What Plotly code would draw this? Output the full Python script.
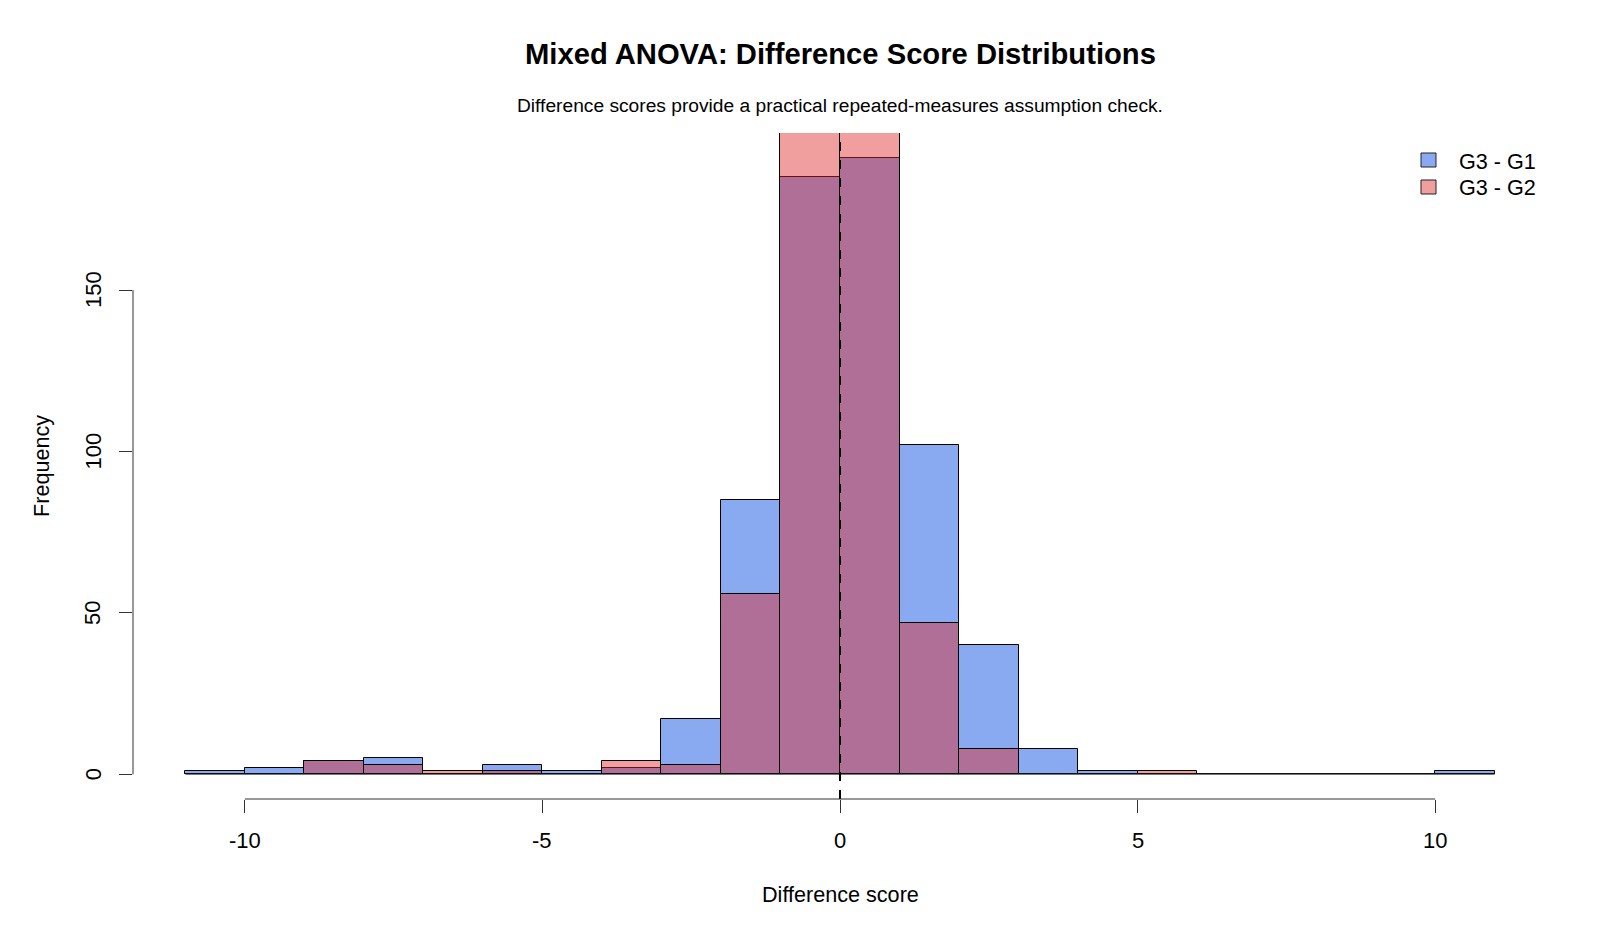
import plotly.graph_objects as go

# ---- data ----
bin_left = list(range(-11, 11))          # histogram bins [k, k+1)
bin_width = 1
g3_g1 = [1, 2, 4, 5, 0, 3, 1, 2, 17, 85, 185, 191, 102, 40, 8, 1, 0, 0, 0, 0, 0, 1]
g3_g2 = [0, 0, 4, 3, 1, 1, 0, 4, 3, 56, 262, 258, 47, 8, 0, 0, 1, 0, 0, 0, 0, 0]
x_ticks = [-10, -5, 0, 5, 10]
y_ticks = [0, 50, 100, 150]
series_names = ["G3 - G1", "G3 - G2"]
title = "Mixed ANOVA: Difference Score Distributions"
subtitle = "Difference scores provide a practical repeated-measures assumption check."
x_label = "Difference score"
y_label = "Frequency"

# ---- style ----
FONT = "Liberation Sans, Arial, sans-serif"
BLUE = "rgba(87,134,234,0.7)"
RED = "rgba(222,39,39,0.45)"
W, H = 1600, 933
L, R, T, B = 133, 53, 133, 134
PW, PH = W - L - R, H - T - B

def px(xp):
    return (xp - L) / PW

def py(yp):
    return (H - B - yp) / PH

centers = [b + bin_width / 2 for b in bin_left]
x_lo = bin_left[0]
x_hi = bin_left[-1] + bin_width
x_ext = 0.04 * (x_hi - x_lo)
y_top = max(g3_g1)

fig = go.Figure()
fig.add_trace(go.Scatter(x=[x_lo, x_hi], y=[0, 0], mode="lines",
                         line=dict(color="rgb(90,90,90)", width=1),
                         showlegend=False, hoverinfo="skip"))
for vals, col, name in [(g3_g1, BLUE, series_names[0]), (g3_g2, RED, series_names[1])]:
    fig.add_trace(go.Bar(x=centers, y=vals, width=bin_width, name=name,
                         marker=dict(color=col, line=dict(color="black", width=1)),
                         showlegend=False))

shapes = []
# dashed reference line at 0
shapes.append(dict(type="line", xref="x", yref="paper", x0=0, x1=0, y0=0, y1=1,
                   line=dict(color="black", width=2, dash="9px,9px"), layer="above"))
# axis lines (R style, spanning tick range)
shapes.append(dict(type="line", xref="x", yref="paper", x0=x_ticks[0], x1=x_ticks[-1],
                   y0=0, y1=0, line=dict(color="#333", width=1)))
shapes.append(dict(type="line", xref="paper", yref="y", x0=0, x1=0,
                   y0=y_ticks[0], y1=y_ticks[-1], line=dict(color="#333", width=1)))
# legend boxes
for i, col in enumerate([BLUE, RED]):
    cy = 160 + i * 27
    shapes.append(dict(type="rect", xref="paper", yref="paper",
                       x0=px(1421), x1=px(1436), y0=py(cy + 7), y1=py(cy - 7),
                       fillcolor=col, line=dict(color="#222", width=1)))

ann = []
for v in x_ticks:
    ann.append(dict(x=v, xref="x", y=0, yref="paper", yshift=-41, text=str(v),
                    showarrow=False, xanchor="center", yanchor="middle",
                    font=dict(size=22, color="black", family=FONT)))
for v in y_ticks:
    ann.append(dict(x=0, xref="paper", xshift=-40, y=v, yref="y", text=str(v),
                    textangle=-90, showarrow=False, xanchor="center", yanchor="middle",
                    font=dict(size=22, color="black", family=FONT)))
ann.append(dict(x=0.5, xref="paper", y=0, yref="paper", yshift=-95, text=x_label,
                showarrow=False, xanchor="center", yanchor="middle",
                font=dict(size=21.6, color="black", family=FONT)))
ann.append(dict(x=0, xref="paper", xshift=-92, y=0.5, yref="paper", text=y_label,
                textangle=-90, showarrow=False, xanchor="center", yanchor="middle",
                font=dict(size=21.6, color="black", family=FONT)))
ann.append(dict(x=0.5, xref="paper", y=1, yref="paper", yshift=79,
                text="<b>" + title + "</b>", showarrow=False, xanchor="center", yanchor="middle",
                font=dict(size=29.2, color="black", family=FONT)))
ann.append(dict(x=0.5, xref="paper", y=1, yref="paper", yshift=28, text=subtitle,
                showarrow=False, xanchor="center", yanchor="middle",
                font=dict(size=19.2, color="black", family=FONT)))
for i, name in enumerate(series_names):
    ann.append(dict(x=px(1457), xref="paper", y=py(161 + i * 27), yref="paper", text=name,
                    showarrow=False, xanchor="left", yanchor="middle",
                    font=dict(size=21.6, color="black", family=FONT)))

fig.update_layout(
    width=W, height=H,
    margin=dict(l=L, r=R, t=T, b=B, pad=0),
    paper_bgcolor="white", plot_bgcolor="white",
    barmode="overlay", bargap=0,
    showlegend=False,
    shapes=shapes, annotations=ann,
    xaxis=dict(range=[x_lo - x_ext, x_hi + x_ext], tickvals=x_ticks, ticks="outside",
               ticklen=13, tickwidth=1, tickcolor="#333", showticklabels=False,
               showgrid=False, zeroline=False, showline=False, fixedrange=True),
    yaxis=dict(range=[-0.04 * y_top, 1.04 * y_top], tickvals=y_ticks, ticks="outside",
               ticklen=13, tickwidth=1, tickcolor="#333", showticklabels=False,
               showgrid=False, zeroline=False, showline=False, fixedrange=True),
)

fig.write_html("out.html")
